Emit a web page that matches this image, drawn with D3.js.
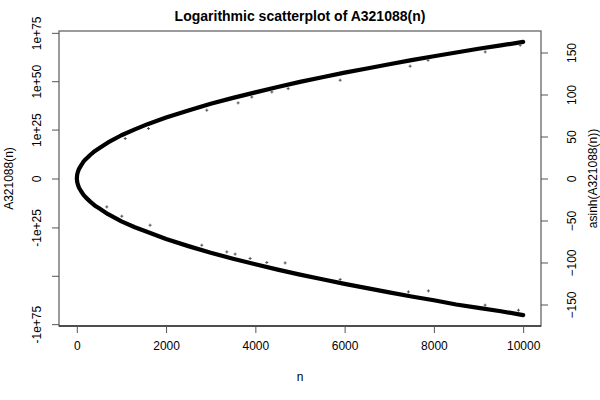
<!DOCTYPE html>
<html>
<head>
<meta charset="utf-8">
<script src="https://cdn.jsdelivr.net/npm/d3@7"></script>
<style>
  body { margin: 0; background: #fff; }
  svg text { font-family: "Liberation Sans", Arial, sans-serif; }
</style>
</head>
<body>
<div id="chart"></div>
<script>
// values: asinh(a(n)) along the two branches
const nUpper = [1, 5, 10, 25, 50, 100, 150, 200, 300, 400, 500, 700, 1000, 1300, 1600, 2000,
  2500, 3000, 3500, 4000, 4500, 5000, 5500, 6000, 6500, 7000, 7500, 8000, 8500, 9000, 9500, 10000]
const vUpper = [0.5, 3, 5, 8, 11.5, 16, 20, 23, 28, 32.5, 36, 43, 51.5, 58.5, 65, 72.5,
  81, 89, 96, 102.5, 109, 115, 120.5, 126, 131, 136, 141, 145.5, 150, 154.5, 158.5, 162.6]
const nLower = nUpper
const vLower = [-0.5, -2.5, -4.5, -7.5, -11, -15.5, -19.5, -22.5, -27.5, -32, -35.5, -42.5, -51, -58, -64, -72,
  -80.5, -88.5, -95.5, -102, -108.5, -114.5, -120, -125.5, -130.5, -135.5, -140.5, -145, -150, -154, -158, -162.6]

// stray points that sit off the main band
const nStray = [1085, 1605, 2912, 3614, 3920, 4370, 4735, 5900, 7468, 7870, 9150, 9934,
  672, 1008, 1642, 2800, 3361, 3547, 3883, 4257, 4667, 5900, 7430, 7878, 9148, 9895]
const vStray = [47.6, 59.5, 81.3, 90, 97, 103, 107, 117, 133.7, 140.8, 150.7, 158.7,
  -33.8, -44.9, -55.6, -79.4, -87.4, -90, -95.2, -100, -100.5, -120.2, -135, -133.8, -150.8, -156.8]

const xTicks = [0, 2000, 4000, 6000, 8000, 10000]
const rightTicks = [-150, -100, -50, 0, 50, 100, 150]
const leftTicks = [Math.asinh(1e75), Math.asinh(1e50), Math.asinh(1e25), 0,
  -Math.asinh(1e25), -Math.asinh(1e50), -Math.asinh(1e75)]
const leftLabels = ['1e+75', '1e+50', '1e+25', '0', '-1e+25', '', '-1e+75']

const width = 600
const height = 400
const margin = { top: 31, bottom: 74, left: 59, right: 59 }

const svg = d3.select('#chart')
  .append('svg')
  .attr('width', width)
  .attr('height', height)

const x = d3.scaleLinear()
  .domain([-399, 10400])
  .range([margin.left, width - margin.right])

const y = d3.scaleLinear()
  .domain([-175.6, 175.6])
  .range([height - margin.bottom, margin.top])

const upper = nUpper.map((n, i) => [n, vUpper[i]])
const lower = nLower.map((n, i) => [n, vLower[i]])

// one path through the vertex, straight segments keep the nose pointed
const branch = lower.slice().reverse().concat(upper.slice(1))
svg.append('path')
  .datum(branch)
  .attr('d', d3.line().x(d => x(d[0])).y(d => y(d[1])))
  .attr('fill', 'none')
  .attr('stroke', '#000')
  .attr('stroke-width', 4.2)
  .attr('stroke-linecap', 'round')
  .attr('stroke-linejoin', 'round')

svg.append('g')
  .selectAll('path')
  .data(nStray.map((n, i) => [n, vStray[i]]))
  .join('path')
    .attr('d', d => `M${x(d[0]) - 1.5},${y(d[1])}h3M${x(d[0])},${y(d[1]) - 1.5}v3`)
    .attr('stroke', '#555')
    .attr('stroke-width', 1)

// box
svg.append('rect')
  .attr('x', margin.left)
  .attr('y', margin.top)
  .attr('width', width - margin.left - margin.right)
  .attr('height', height - margin.top - margin.bottom)
  .attr('fill', 'none')
  .attr('stroke', '#666')
  .attr('stroke-width', 1.3)

svg.append('line')
  .attr('x1', margin.left).attr('x2', width - margin.right)
  .attr('y1', height - margin.bottom).attr('y2', height - margin.bottom)
  .attr('stroke', '#000')

function xAxis(g){
  g.attr('transform', `translate(0, ${height - margin.bottom})`)
    .call(d3.axisBottom(x).tickValues(xTicks).tickSize(7).tickPadding(8).tickFormat(d3.format('d')))
    .attr('font-size', '12px')
    .call(g => g.select('.domain').remove())
    .call(g => g.selectAll('line').attr('stroke', '#555'))
}

function yAxisLeft(g){
  g.attr('transform', `translate(${margin.left}, 0)`)
    .call(d3.axisLeft(y).tickValues(leftTicks).tickSize(7).tickFormat((d, i) => leftLabels[i]))
    .attr('font-size', '12px')
    .call(g => g.select('.domain').remove())
    .call(g => g.selectAll('line').attr('stroke', '#555'))
    .call(g => g.selectAll('text')
      .attr('x', 0).attr('y', 0).attr('dy', null)
      .attr('text-anchor', 'middle')
      .attr('dominant-baseline', 'middle')
      .attr('transform', 'translate(-21, 0) rotate(-90)'))
}

function yAxisRight(g){
  g.attr('transform', `translate(${width - margin.right}, 0)`)
    .call(d3.axisRight(y).tickValues(rightTicks).tickSize(7))
    .attr('font-size', '12px')
    .call(g => g.select('.domain').remove())
    .call(g => g.selectAll('line').attr('stroke', '#555'))
    .call(g => g.selectAll('text')
      .attr('x', 0).attr('y', 0).attr('dy', null)
      .attr('text-anchor', 'middle')
      .attr('dominant-baseline', 'middle')
      .attr('transform', 'translate(32, 0) rotate(-90)'))
}

svg.append('g').call(xAxis)
svg.append('g').call(yAxisLeft)
svg.append('g').call(yAxisRight)

svg.selectAll('.tick text').attr('fill', '#000')

svg.append('text')
  .attr('x', width / 2).attr('y', 21)
  .attr('text-anchor', 'middle')
  .attr('font-size', '14px')
  .attr('font-weight', 'bold')
  .text('Logarithmic scatterplot of A321088(n)')

svg.append('text')
  .attr('x', (margin.left + width - margin.right) / 2).attr('y', 381)
  .attr('text-anchor', 'middle')
  .attr('font-size', '12px')
  .text('n')

svg.append('text')
  .attr('transform', `translate(13, ${y(0)}) rotate(-90)`)
  .attr('text-anchor', 'middle')
  .attr('font-size', '12px')
  .text('A321088(n)')

svg.append('text')
  .attr('transform', `translate(597, ${y(0)}) rotate(-90)`)
  .attr('text-anchor', 'middle')
  .attr('font-size', '12px')
  .text('asinh(A321088(n))')
</script>
</body>
</html>
